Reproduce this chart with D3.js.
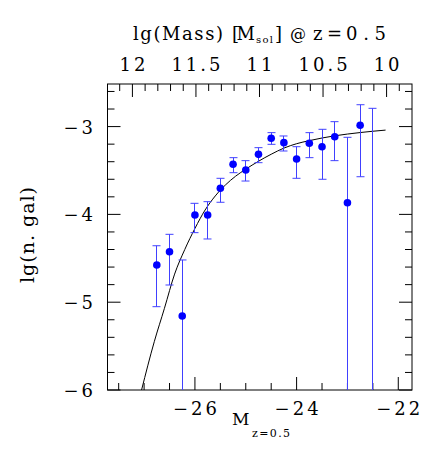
<!DOCTYPE html>
<html><head><meta charset="utf-8">
<script src="https://cdn.jsdelivr.net/npm/d3@7"></script>
<style>body{margin:0;background:#fff} text{font-family:"DejaVu Serif","Liberation Serif",serif}</style>
</head><body>
<svg id="c" width="436" height="453"></svg>
<script>
// ---- data ----
const magnitudes = [-26.75,-26.5,-26.25,-26.0,-25.75,-25.5,-25.25,-25.0,-24.75,-24.5,-24.25,-24.0,-23.75,-23.5,-23.25,-23.0,-22.75,-22.5];
const lgN      = [-4.576,-4.425,-5.157,-4.007,-4.007,-3.703,-3.429,-3.494,-3.316,-3.133,-3.183,-3.369,-3.190,-3.229,-3.115,-3.867,-2.985,-6.4];
const errHigh  = [-4.357,-4.227,-4.519,-3.874,-3.855,-3.589,-3.354,-3.388,-3.240,-3.069,-3.107,-3.229,-3.069,-3.031,-2.944,-3.122,-2.751,-2.792];
const errLow   = [-5.051,-4.804,-6.5,-4.208,-4.280,-3.862,-3.525,-3.620,-3.411,-3.202,-3.278,-3.589,-3.354,-3.600,-3.388,-6.5,-3.571,-6.5];
const fitM   = [-27.05,-26.8,-26.6,-26.4,-26.2,-26.0,-25.8,-25.6,-25.4,-25.2,-25.0,-24.75,-24.5,-24.25,-24.0,-23.75,-23.5,-23.25,-23.0,-22.75,-22.5,-22.25];
const fitLgN = [-6.0,-5.45,-5.07,-4.68,-4.40,-4.16,-3.95,-3.79,-3.665,-3.565,-3.485,-3.395,-3.315,-3.245,-3.195,-3.16,-3.13,-3.105,-3.085,-3.068,-3.053,-3.04];
const xMajorTicks = [-26,-24,-22];
const yMajorTicks = [-6,-5,-4,-3];
const massTicks = [12,11.5,11,10.5,10];
const massLabels = ["12","11.5","11","10.5","10"];

// ---- layout ----
const L = 107.5, R = 412, T = 84, B = 390;
const svg = d3.select("#c");
const x = d3.scaleLinear().domain([-27.72,-21.73]).range([L,R]);
const y = d3.scaleLinear().domain([-6,-2.515]).range([B,T]);
const xm = d3.scaleLinear().domain([12,10]).range([x(-27.23), x(-22.23)]);

svg.append("clipPath").attr("id","clip").append("rect")
  .attr("x",L).attr("y",T).attr("width",R-L).attr("height",B-T);

// ticks
const tickG = svg.append("g").attr("stroke","#000").attr("stroke-width",1);
const MAJ = 13, MIN = 7;
function vtick(px, len, top){
  if (top) tickG.append("line").attr("x1",px).attr("x2",px).attr("y1",T).attr("y2",T+len);
  else tickG.append("line").attr("x1",px).attr("x2",px).attr("y1",B).attr("y2",B-len);
}
function htick(py, len){
  tickG.append("line").attr("x1",L).attr("x2",L+len).attr("y1",py).attr("y2",py);
  tickG.append("line").attr("x1",R).attr("x2",R-len).attr("y1",py).attr("y2",py);
}
x.ticks(12).forEach(v => {
  const isMaj = xMajorTicks.some(m => Math.abs(m - v) < 1e-6);
  vtick(x(v), isMaj ? MAJ : MIN, false);
});
d3.range(-6, -2.5, 0.2).forEach(v => {
  const isMaj = yMajorTicks.some(m => Math.abs(m - v) < 1e-6);
  htick(y(v), isMaj ? MAJ : MIN);
});
d3.range(9.9, 12.2, 0.1).forEach(v => {
  const px = xm(v);
  if (px < L || px > R) return;
  const isMaj = massTicks.some(m => Math.abs(m - v) < 1e-6);
  vtick(px, isMaj ? MAJ : MIN, true);
});

// frame
svg.append("rect").attr("x",L).attr("y",T).attr("width",R-L).attr("height",B-T)
  .attr("fill","none").attr("stroke","#000").attr("stroke-width",1);

// tick labels
const lab = svg.append("g").attr("font-size",18).attr("fill","#000");
xMajorTicks.forEach(v => {
  lab.append("text").attr("x",x(v)+1.5).attr("y",415).attr("text-anchor","middle")
    .attr("letter-spacing",3).text("\u2212" + Math.abs(v));
});
yMajorTicks.forEach(v => {
  lab.append("text").attr("x",96).attr("y",y(v)+7).attr("text-anchor","end")
    .attr("letter-spacing",3).text("\u2212" + Math.abs(v));
});
massTicks.forEach((v,i) => {
  lab.append("text").attr("x",xm(v)+1.5).attr("y",70.5).attr("text-anchor","middle")
    .attr("letter-spacing",3).text(massLabels[i]);
});

// axis titles
const tt = svg.append("g").attr("fill","#000");
tt.append("text").attr("x",133).attr("y",40).attr("font-size",18)
  .attr("textLength",90).attr("lengthAdjust","spacing").text("lg(Mass)");
tt.append("text").attr("x",232).attr("y",40).attr("font-size",18)
  .attr("textLength",23).attr("lengthAdjust","spacing").text("[M");
tt.append("text").attr("x",256).attr("y",43).attr("font-size",10)
  .attr("textLength",17).attr("lengthAdjust","spacing").text("sol");
tt.append("text").attr("x",275).attr("y",40).attr("font-size",18).text("]");
tt.append("text").attr("x",290).attr("y",40).attr("font-size",16).text("@");
tt.append("text").attr("x",313).attr("y",40).attr("font-size",18).text("z");
tt.append("text").attr("x",327).attr("y",40).attr("font-size",18).text("=");
tt.append("text").attr("x",346).attr("y",40).attr("font-size",18)
  .attr("textLength",40).attr("lengthAdjust","spacing").text("0.5");

tt.append("text").attr("transform","translate(34,283) rotate(-90)").attr("font-size",19)
  .attr("textLength",96).attr("lengthAdjust","spacing").text("lg(n. gal)");

tt.append("text").attr("x",232).attr("y",425).attr("font-size",17).text("M");
tt.append("text").attr("x",252).attr("y",437).attr("font-size",11)
  .attr("textLength",38).attr("lengthAdjust","spacing").text("z=0.5");

// plot contents
const plot = svg.append("g").attr("clip-path","url(#clip)");

const fitData = fitM.map((m,i) => [m, fitLgN[i]]);
plot.append("path").datum(fitData)
  .attr("d", d3.line().x(d => x(d[0])).y(d => y(d[1])).curve(d3.curveMonotoneX))
  .attr("fill","none").attr("stroke","#000").attr("stroke-width",1);

const pts = magnitudes.map((m,i) => ({m, v:lgN[i], hi:errHigh[i], lo:errLow[i]}));
const eb = plot.append("g").attr("stroke","#4040ff").attr("stroke-width",1);
pts.forEach(p => {
  const px = Math.round(x(p.m) - 0.5) + 0.5;
  eb.append("line").attr("x1",px).attr("x2",px).attr("y1",y(p.lo)).attr("y2",y(p.hi));
  eb.append("line").attr("x1",px-4).attr("x2",px+4).attr("y1",y(p.hi)).attr("y2",y(p.hi));
  eb.append("line").attr("x1",px-4).attr("x2",px+4).attr("y1",y(p.lo)).attr("y2",y(p.lo));
});
plot.append("g").selectAll("circle").data(pts).join("circle")
  .attr("cx", d => x(d.m)).attr("cy", d => y(d.v)).attr("r",3.8).attr("fill","#0000ff");
</script>
</body></html>
